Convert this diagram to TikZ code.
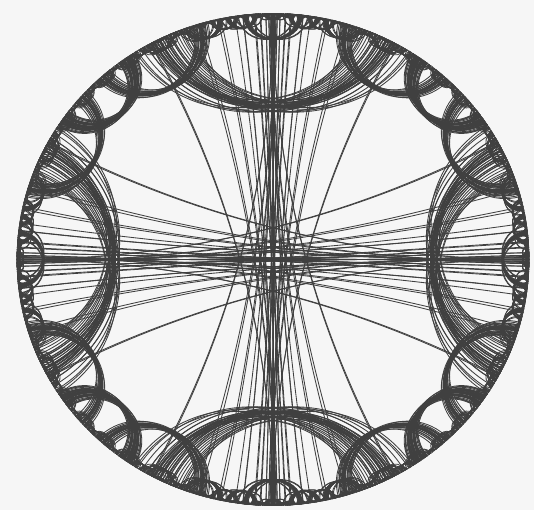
\documentclass[tikz,border=0pt]{standalone}
\newcommand\HC{1.274532}
\newcommand\HS{0.790210}
\newdimen\HAr \newdimen\HAi \newdimen\HBr \newdimen\HBi
\newdimen\HTr \newdimen\HTi \newdimen\HUr \newdimen\HUi
\newdimen\Hx \newdimen\Hy \newdimen\Hm \newdimen\Hn
\newdimen\Hsx \newdimen\Hsy \newdimen\Hg \newdimen\Hk
\newdimen\Px \newdimen\Py \newdimen\Qx \newdimen\Qy
\newdimen\Hdx \newdimen\Hdy
\newdimen\Hcx \newdimen\Hcy \newdimen\Hex \newdimen\Hey
% square of the unit direction of (#1,#2) -> (\Hsx,\Hsy)
\newcommand\HypSq[2]{%
  \Hx=\dimexpr#1\relax \Hy=\dimexpr#2\relax
  \Hm=\ifdim\Hx<0pt -\fi\Hx
  \Hn=\ifdim\Hy<0pt -\fi\Hy
  \ifdim\Hn>\Hm \Hm=\Hn\fi
  \Hx=\dimexpr\Hx*65536/\Hm\relax
  \Hy=\dimexpr\Hy*65536/\Hm\relax
  \Hn=\dimexpr\Hx*\Hx/65536+\Hy*\Hy/65536\relax
  \Hsx=\dimexpr(\Hx*\Hx/65536-\Hy*\Hy/65536)*65536/\Hn\relax
  \Hsy=\dimexpr(\Hx*\Hy/65536)*131072/\Hn\relax}
\newcommand\HypNode[2]{%
  \begingroup
  \HAr=\HTr \HAi=\HTi \HBr=\HUr \HBi=\HUi
  \ifnum#2<3\relax
    \HypSq{\HBr-\HAi}{\HAr+\HBi}\Px=\Hsy \Py=-\Hsx
    \HypSq{\HBr+\HAi}{\HBi-\HAr}\Qx=-\Hsy \Qy=\Hsx
  \else
    \HypSq{\HAr+\HBr}{\HAi+\HBi}\Px=\Hsx \Py=\Hsy
    \HypSq{\HAr-\HBr}{\HAi-\HBi}\Qx=-\Hsx \Qy=-\Hsy
  \fi
  \Hdx=\dimexpr\Px-\Qx\relax \Hdy=\dimexpr\Py-\Qy\relax
  \Hm=\ifdim\Hdx<0pt -\fi\Hdx
  \Hn=\ifdim\Hdy<0pt -\fi\Hdy
  \ifdim\Hn>\Hm \Hm=\Hn\fi
  \ifdim\Hm>0.005pt
    \Hx=\dimexpr\Hdx*65536/\Hm\relax
    \Hy=\dimexpr\Hdy*65536/\Hm\relax
    \Hn=\dimexpr\Hx*\Hx/65536+\Hy*\Hy/65536\relax
    \Hg=\dimexpr(\Hn+1pt)/2\relax
    \Hg=\dimexpr(\Hg+\Hn*65536/\Hg)/2\relax
    \Hg=\dimexpr(\Hg+\Hn*65536/\Hg)/2\relax
    \Hg=\dimexpr(\Hg+\Hn*65536/\Hg)/2\relax
    \Hg=\dimexpr\Hm*\Hg/65536\relax
    \Hn=\dimexpr2pt+\Hg\relax
    \Hk=\dimexpr\Hg*87381/\Hn\relax
    \Hk=\dimexpr1pt-\Hk\relax
    \Hcx=\dimexpr\Px*\Hk/65536\relax \Hcy=\dimexpr\Py*\Hk/65536\relax
    \Hex=\dimexpr\Qx*\Hk/65536\relax \Hey=\dimexpr\Qy*\Hk/65536\relax
    \pgfpathmoveto{\pgfqpoint{256\Px}{246\Py}}%
    \pgfpathcurveto{\pgfqpoint{256\Hcx}{246\Hcy}}{\pgfqpoint{256\Hex}{246\Hey}}{\pgfqpoint{256\Qx}{246\Qy}}%
    \pgfusepath{stroke}%
  \fi
  \ifdim\Hm>0.016pt \ifnum#1<10
    \ifnum#2=2 \else
      \HTr=\HC\HAr \advance\HTr by \HS\HBr
      \HTi=\HC\HAi \advance\HTi by \HS\HBi
      \HUr=\HS\HAr \advance\HUr by \HC\HBr
      \HUi=\HS\HAi \advance\HUi by \HC\HBi
      \expandafter\HypNode\expandafter{\the\numexpr#1+1\relax}{1}%
    \fi
    \ifnum#2=1 \else
      \HTr=\HC\HAr \advance\HTr by -\HS\HBr
      \HTi=\HC\HAi \advance\HTi by -\HS\HBi
      \HUr=\HC\HBr \advance\HUr by -\HS\HAr
      \HUi=\HC\HBi \advance\HUi by -\HS\HAi
      \expandafter\HypNode\expandafter{\the\numexpr#1+1\relax}{2}%
    \fi
    \ifnum#2=4 \else
      \HTr=\HC\HAr \advance\HTr by \HS\HBi
      \HTi=\HC\HAi \advance\HTi by -\HS\HBr
      \HUr=\HC\HBr \advance\HUr by -\HS\HAi
      \HUi=\HS\HAr \advance\HUi by \HC\HBi
      \expandafter\HypNode\expandafter{\the\numexpr#1+1\relax}{3}%
    \fi
    \ifnum#2=3 \else
      \HTr=\HC\HAr \advance\HTr by -\HS\HBi
      \HTi=\HC\HAi \advance\HTi by \HS\HBr
      \HUr=\HS\HAi \advance\HUr by \HC\HBr
      \HUi=\HC\HBi \advance\HUi by -\HS\HAr
      \expandafter\HypNode\expandafter{\the\numexpr#1+1\relax}{4}%
    \fi
  \fi\fi
  \endgroup}
\begin{document}
\begin{tikzpicture}[x=256pt,y=246pt,
  hl/.style={line width=0.85pt,draw=black!75,line cap=round}]
\useasboundingbox (-273pt,-250.5pt) rectangle (261pt,259.5pt);
\fill[fill={rgb,255:red,246;green,246;blue,246}] (-273pt,-250.5pt) rectangle (261pt,259.5pt);
\coordinate (W) at (180:1);
\coordinate (E) at (0:1);
\coordinate (N) at (90:1);
\coordinate (S) at (270:1);
\draw[hl] (W) -- (E);
\draw[hl] (N) -- (S);
\begin{scope}[hl]
\HTr=\HC pt \HTi=0pt \HUr=\HS pt \HUi=0pt \HypNode{1}{1}
\HTr=\HC pt \HTi=0pt \HUr=-\HS pt \HUi=0pt \HypNode{1}{2}
\HTr=\HC pt \HTi=0pt \HUr=0pt \HUi=\HS pt \HypNode{1}{3}
\HTr=\HC pt \HTi=0pt \HUr=0pt \HUi=-\HS pt \HypNode{1}{4}
\end{scope}
\end{tikzpicture}
\end{document}
